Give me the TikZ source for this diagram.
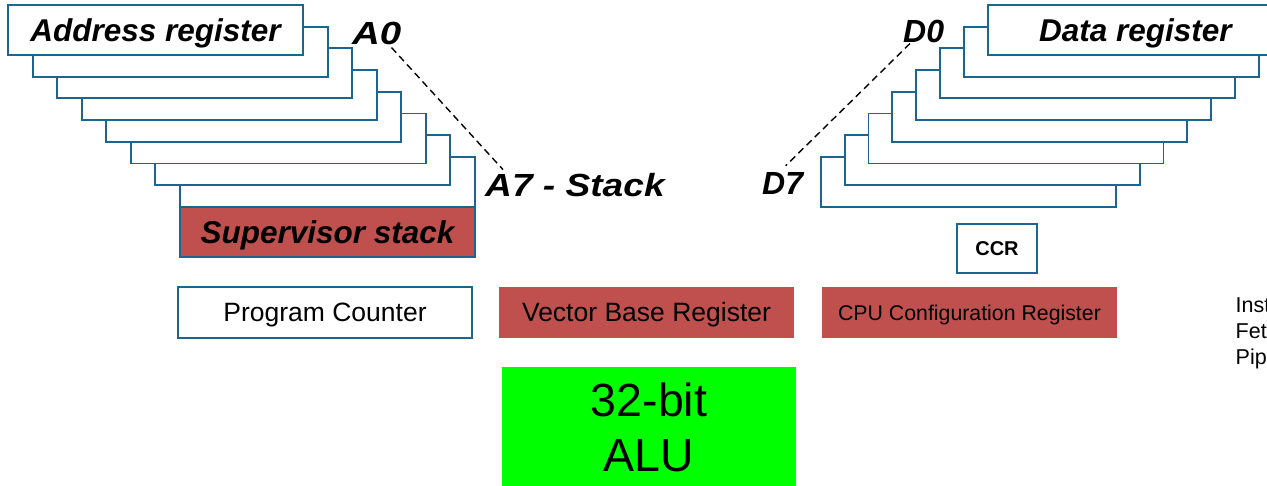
\documentclass[tikz,border=0pt]{standalone}
\usepackage{fontspec}
\setmainfont{Liberation Sans}
\usepackage{xcolor}
\usetikzlibrary{positioning}

\definecolor{regblue}{HTML}{1B6591}
\definecolor{regred}{HTML}{C0504D}
\definecolor{alugreen}{HTML}{00FF00}

\begin{document}
\begin{tikzpicture}[
    x=1pt, y=-1pt, % satuan = piksel gambar
    reg/.style={rectangle, draw=regblue, line width=1.9pt, fill=white, minimum width=295pt, minimum height=50pt, inner sep=0pt, outer sep=0pt},
    regtitle/.style={font=\fontsize{31.5}{36}\selectfont\bfseries\itshape, text height=22.5pt, text depth=0pt},
    biglabel/.style={font=\fontsize{32}{38}\selectfont\bfseries\itshape, inner sep=0pt, anchor=base west},
    flatbox/.style={rectangle, fill=regred, minimum width=295pt, minimum height=51pt, inner sep=0pt, outer sep=0pt, anchor=north west},
    boxtext/.style={font=\fontsize{26.5}{32}\selectfont, text height=19pt, text depth=0pt},
    link/.style={draw, line width=1.4pt, dash pattern=on 7pt off 4.5pt}
]
\useasboundingbox (0,0) rectangle (1267,486);
\clip (0,0) rectangle (1267,486);

% Register alamat
\foreach \i in {7,...,1}
    \node[reg, anchor=north west] (a\i) at ({8+24.57*\i}, {5+21.7*\i}) {};
\node[reg, anchor=north west, regtitle] (a0) at (8,5) {Address register};
\node[reg, fill=regred, regtitle, below=0pt of a7] (sup) {Supervisor stack};

% Register data
\foreach \i in {7,...,1}
    \node[reg, anchor=north west] (d\i) at ({988-23.9*\i}, {5+21.7*\i}) {};
\node[reg, anchor=north west, regtitle] (d0) at (988,5) {Data register};

% Label
\node[biglabel] (a0lbl) at (352,45) {\scalebox{1.2}[1]{A0}};
\node[biglabel] (a7lbl) at (485,197) {\scalebox{1.16}[1]{A7 - Stack}};
\node[biglabel] (d0lbl) at (903,43) {D0};
\node[biglabel] (d7lbl) at (762,195) {D7};

\node[reg, minimum width=80pt, minimum height=49pt, anchor=north west, font=\fontsize{20}{24}\selectfont\bfseries] (ccr) at (957,224) {CCR};

% Baris register khusus
\node[reg, minimum width=294pt, minimum height=51pt, anchor=north west, boxtext] (pc) at (178,287) {Program Counter};
\node[flatbox, boxtext] (vbr) at (499,287) {Vector Base Register};
\node[flatbox, font=\fontsize{21.3}{26}\selectfont, text height=15.3pt, text depth=0pt] (cpucfg) at (822,287) {CPU Configuration Register};

\node[flatbox, fill=alugreen, minimum width=294pt, minimum height=120pt, align=center, font=\fontsize{46.5}{55}\selectfont] (alu) at (502,367) {32-bit\\ALU};

\node[anchor=north west, inner sep=0pt, align=left, font=\fontsize{21.5}{26}\selectfont] (ifp) at (1235.5,297.7) {Inst\\Fet\\Pip};

% Garis putus-putus
\draw[link] ([xshift=-10pt,yshift=-2pt]a0lbl.south east) -- ([xshift=18pt,yshift=4pt]a7lbl.north west);
\draw[link] ([xshift=7pt]d0lbl.south west) -- ([xshift=3pt,yshift=7pt]d7lbl.north);

\end{tikzpicture}
\end{document}
